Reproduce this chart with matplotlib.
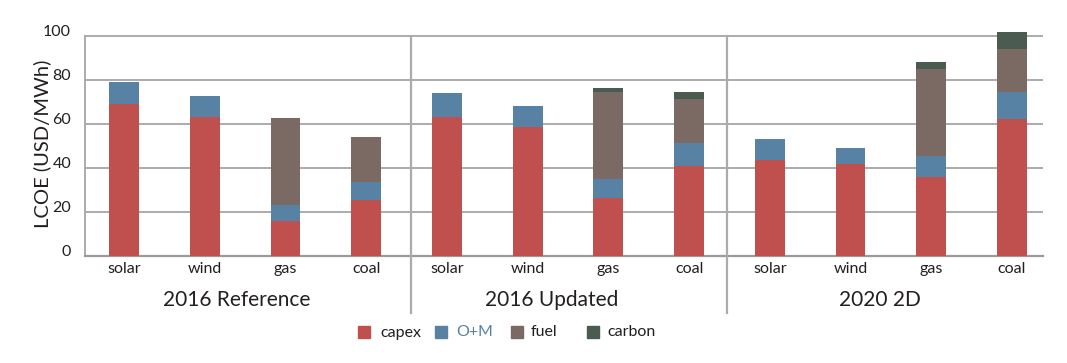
import matplotlib
matplotlib.use("Agg")
import matplotlib.pyplot as plt
import matplotlib.transforms as mtransforms
from matplotlib.patches import Rectangle
import numpy as np

plt.rcParams['font.family'] = ['Lato', 'DejaVu Sans']

groups = ["2016 Reference", "2016 Updated", "2020 2D"]
techs = ["solar", "wind", "gas", "coal"]
components = ["capex", "O+M", "fuel", "carbon"]
colors = ["#c0504d", "#5882a4", "#7b6a63", "#4a5b50"]

capex = [69, 63, 16, 25.5,   63, 58.6, 26.4, 41,   43.6, 41.8, 36, 62.4]
om    = [10, 9.5, 7, 8,      11, 9.4, 8.6, 10.3,   9.6, 7.3, 9.5, 12]
fuel  = [0, 0, 39.7, 20.5,   0, 0, 39.5, 20.1,     0, 0, 39.5, 19.7]
carbon = [0, 0, 0, 0,        0, 0, 1.9, 3.1,       0, 0, 3.2, 7.7]
series = [capex, om, fuel, carbon]

yticks = [0, 20, 40, 60, 80, 100]
text_color = "#231f20"
grid_color = "#ababab"

W, H = 1067, 363
fig = plt.figure(figsize=(W / 100, H / 100), dpi=100)
ax = fig.add_axes([85 / W, (H - 256) / H, (1043 - 85) / W, 228.8 / H])

n = len(groups) * len(techs)
x = np.arange(n)
bottom = np.zeros(n)
for vals, col in zip(series, colors):
    v = np.array(vals, dtype=float)
    ax.bar(x, v, bottom=bottom, width=0.37, color=col, zorder=3, linewidth=0)
    bottom += v

ax.set_ylim(0, 104)
ax.set_xlim(-0.483, 11.384)
ax.set_yticks(yticks)
ax.set_yticklabels([str(t) for t in yticks], fontsize=11.5, color=text_color)
ax.yaxis.grid(True, color=grid_color, linewidth=1.4, zorder=0)
ax.tick_params(axis='y', length=0, pad=10)
off = mtransforms.ScaledTranslation(0, 4 / 72, fig.dpi_scale_trans)
for lab in ax.get_yticklabels():
    lab.set_transform(lab.get_transform() + off)

ax.set_xticks(x)
ax.set_xticklabels(techs * len(groups), fontsize=11.5, color=text_color)
ax.tick_params(axis='x', length=0, pad=4)

for s in ['top', 'right']:
    ax.spines[s].set_visible(False)
ax.spines['left'].set_bounds(0, 100)
ax.spines['left'].set_color(grid_color)
ax.spines['left'].set_linewidth(1.4)
ax.spines['bottom'].set_color("#9a9a9a")
ax.spines['bottom'].set_linewidth(1.6)

ax.set_ylabel("LCOE (USD/MWh)", fontsize=14.5, color=text_color)
ax.yaxis.set_label_coords(-0.045, 0.49)
ax.yaxis.label.set_va('center')

# panel separators
trans = mtransforms.blended_transform_factory(ax.transData, ax.transAxes)
for sx in [3.556, 7.47]:
    ax.plot([sx, sx], [100 / 104, -0.249], transform=trans, color=grid_color,
            linewidth=1.6, clip_on=False, zorder=4)

# group labels
for gx, g in zip([1.40, 5.30, 9.37], groups):
    ax.text(gx, -0.192, g, transform=trans, ha='center', va='center',
            fontsize=15, color=text_color)

# legend
leg_x = [358, 435, 511, 587]
txt_x = [380, 456, 531, 607]
txt_colors = [text_color, "#5882a4", text_color, text_color]
for lx, tx, lab, col, tc in zip(leg_x, txt_x, components, colors, txt_colors):
    fig.patches.append(Rectangle((lx / W, (H - 338) / H), 12 / W, 12 / H,
                                 transform=fig.transFigure, color=col))
    fig.text(tx / W, (H - 332.5) / H, lab, ha='left', va='center',
             fontsize=11.5, color=tc)

fig.savefig("out.png", dpi=100)
